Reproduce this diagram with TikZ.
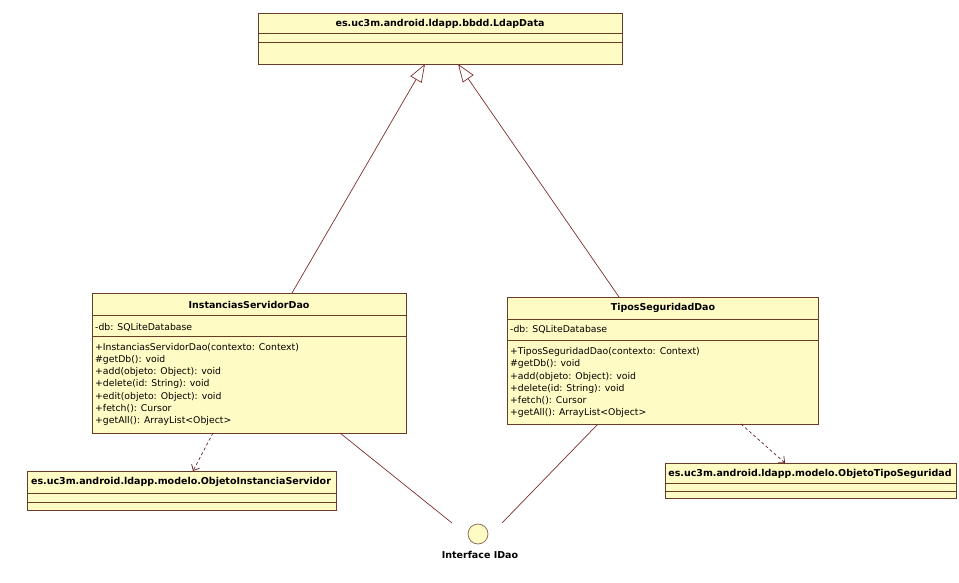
\documentclass[tikz,border=0pt]{standalone}
\usepackage{fontspec}
\setmainfont{DejaVu Sans}
\usetikzlibrary{arrows.meta,calc}
\definecolor{umlfill}{RGB}{255,251,196}
\definecolor{umledge}{RGB}{105,60,40}
\definecolor{umlline}{RGB}{125,45,45}
\begin{document}
\begin{tikzpicture}[x=1pt,y=-1pt,
  classbox/.style={draw=umledge, fill=umlfill, line width=0.85pt, anchor=north west,
    inner sep=0pt, outer sep=0pt},
  title/.style={font=\fontsize{9.5}{11}\selectfont\bfseries, inner sep=0pt},
  members/.style={font=\fontsize{9.3}{12.25}\selectfont, align=left, anchor=north west,
    inner sep=0pt},
  sep/.style={draw=umledge, line width=0.85pt},
  generalize/.style={draw=umlline, line width=0.7pt,
    -{Triangle[open, length=18pt, width=13pt]}},
  depends/.style={draw=umlline!75!black, line width=0.7pt, dash pattern=on 3pt off 2.5pt,
    -{Straight Barb[length=5pt, width=9pt]}},
  realize/.style={draw=umlline, line width=0.7pt},
]
\useasboundingbox (0,0) rectangle (959,583);

% superclass
\node[classbox, minimum width=364pt, minimum height=51pt] (ldap) at (258,13) {};
\draw[sep] (258,33) -- (622,33);
\draw[sep] (258,42) -- (622,42);
\node[title] (ldapname) at (440,23.5) {es.uc3m.android.ldapp.bbdd.LdapData};

% InstanciasServidorDao
\node[classbox, minimum width=314pt, minimum height=140pt] (inst) at (92,293) {};
\draw[sep] (92,315) -- (406,315);
\draw[sep] (92,336) -- (406,336);
\node[title] (instname) at (249,304.5) {InstanciasServidorDao};
\node[members] (instattr) at (95,322.8) {-db: SQLiteDatabase};
\node[members] (instops) at (95,342.8) {+InstanciasServidorDao(contexto: Context)\\
\#getDb(): void\\
+add(objeto: Object): void\\
+delete(id: String): void\\
+edit(objeto: Object): void\\
+fetch(): Cursor\\
+getAll(): ArrayList<Object>};

% TiposSeguridadDao
\node[classbox, minimum width=311pt, minimum height=127pt] (tipos) at (507,297) {};
\draw[sep] (507,319) -- (818,319);
\draw[sep] (507,340) -- (818,340);
\node[title] (tiposname) at (663,308.3) {TiposSeguridadDao};
\node[members] (tiposattr) at (510,325.5) {-db: SQLiteDatabase};
\node[members] (tiposops) at (510,347.3) {+TiposSeguridadDao(contexto: Context)\\
\#getDb(): void\\
+add(objeto: Object): void\\
+delete(id: String): void\\
+fetch(): Cursor\\
+getAll(): ArrayList<Object>};

% model classes
\node[classbox, minimum width=309pt, minimum height=39pt] (objinst) at (27,471) {};
\draw[sep] (27,493) -- (336,493);
\draw[sep] (27,502) -- (336,502);
\node[title] (objinstname) at (181,482) {es.uc3m.android.ldapp.modelo.ObjetoInstanciaServidor};

\node[classbox, minimum width=291pt, minimum height=35pt] (objtipo) at (665,463) {};
\draw[sep] (665,483) -- (956,483);
\draw[sep] (665,491) -- (956,491);
\node[title] (objtiponame) at (810,474) {es.uc3m.android.ldapp.modelo.ObjetoTipoSeguridad};

% interface lollipop
\node[circle, draw=umledge!80, line width=0.7pt, fill=umlfill, minimum size=20pt,
  inner sep=0pt] (idao) at (478,534) {};
\node[title] (idaolabel) at (480,555) {Interface IDao};
\coordinate (idaoL) at (452,523);
\coordinate (idaoR) at (502,523);

% generalizations
\draw[generalize] ($(inst.north west)+(200,0)$) -- ($(ldap.south west)+(167,0)$);
\draw[generalize] ($(tipos.north west)+(112,0)$) -- ($(ldap.south west)+(200,0)$);

% dependencies
\draw[depends] ($(inst.south west)+(121,0)$) -- ($(objinst.north west)+(166,0)$);
\draw[depends] ($(tipos.south west)+(234,0)$) -- ($(objtipo.north west)+(120,0)$);

% interface realizations
\draw[realize] ($(inst.south west)+(248,0)$) -- (idaoL);
\draw[realize] ($(tipos.south west)+(91,0)$) -- (idaoR);
\end{tikzpicture}
\end{document}
